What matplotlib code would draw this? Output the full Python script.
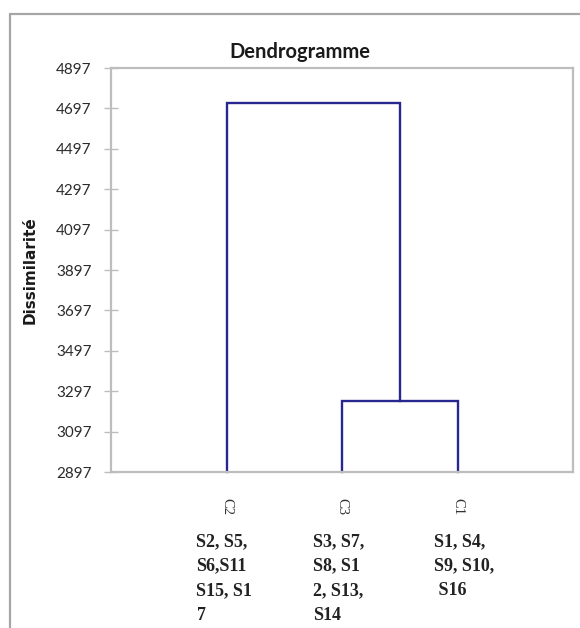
import matplotlib
matplotlib.use("Agg")
import matplotlib.pyplot as plt
import matplotlib.transforms as mtransforms
from matplotlib.patches import Rectangle

# ---- data ----
leaf_labels = ["C2", "C3", "C1"]
leaf_members = ["S2, S5,\nS6,S11\nS15, S1\n7",
                "S3, S7,\nS8, S1\n2, S13,\nS14",
                "S1, S4,\nS9, S10,\n S16"]
# merges: (left node, right node, height); nodes 0..2 are leaves, 3.. are merges
merges = [(1, 2, 3250), (0, 3, 4724)]
y_ticks = [2897, 3097, 3297, 3497, 3697, 3897, 4097, 4297, 4497, 4697, 4897]

line_color = "#27278F"
gray = "#BDBDBD"

fig = plt.figure(figsize=(5.8, 6.28), dpi=100)
W, H = 580, 628

# outer frame (extends off the canvas on right/bottom)
fig.patches.append(Rectangle((10 / W, -0.2), 1.2, 1.2 - 14 / H,
                             transform=fig.transFigure, fill=False,
                             edgecolor="#A6A6A6", linewidth=1.6))

ax = fig.add_axes([111 / W, 1 - 472 / H, 462 / W, 404 / H])

# dendrogram from data
ymin = y_ticks[0]
xpos = {i: i + 1 for i in range(len(leaf_labels))}
ypos = {i: ymin for i in range(len(leaf_labels))}
for k, (a, b, h) in enumerate(merges):
    node = len(leaf_labels) + k
    ax.plot([xpos[a], xpos[a], xpos[b], xpos[b]],
            [ypos[a], h, h, ypos[b]], color=line_color, lw=1.7,
            solid_joinstyle="miter", clip_on=False)
    xpos[node] = (xpos[a] + xpos[b]) / 2
    ypos[node] = h

ax.set_xlim(0, len(leaf_labels) + 1)
ax.set_ylim(y_ticks[0], y_ticks[-1])
ax.set_yticks(y_ticks)
ax.set_yticklabels([str(t) for t in y_ticks], family=["Lato", "DejaVu Sans"],
                   fontsize=11, color="#2b2b2b")
ax.set_xticks(range(1, len(leaf_labels) + 1))
ax.set_xticklabels(leaf_labels, rotation=-90, family=["Liberation Serif"],
                   fontsize=10.5, color="#333333", va="top", ha="center")
ax.tick_params(axis="y", direction="inout", length=10, width=1, color=gray, pad=9)
ax.tick_params(axis="x", length=0, pad=19)
for s in ax.spines.values():
    s.set_color(gray)
    s.set_linewidth(1.6)

# title and y label
fig.text(300 / W, 1 - 52 / H, "Dendrogramme", ha="center", va="center",
         family=["Lato", "DejaVu Sans"], fontweight="bold", fontsize=14.5,
         color="#1a1a1a")
fig.text(30 / W, 1 - 270 / H, "Dissimilarité", ha="center", va="center",
         rotation=90, family=["DejaVu Sans"], fontweight="bold",
         fontsize=11, color="#1a1a1a")

# member text blocks under each cluster
offsets_px = [-30, -29, -23]
blend = mtransforms.blended_transform_factory(ax.transData, fig.transFigure)
for i, txt in enumerate(leaf_members):
    tr = mtransforms.offset_copy(blend, fig=fig, x=offsets_px[i], y=0, units="dots")
    fig.text(i + 1, 1 - 533 / H, txt, transform=tr, ha="left", va="top",
             family=["Liberation Serif"], fontweight="bold", fontsize=13,
             linespacing=1.58, color="#222222")

fig.savefig("out.png", dpi=100)
